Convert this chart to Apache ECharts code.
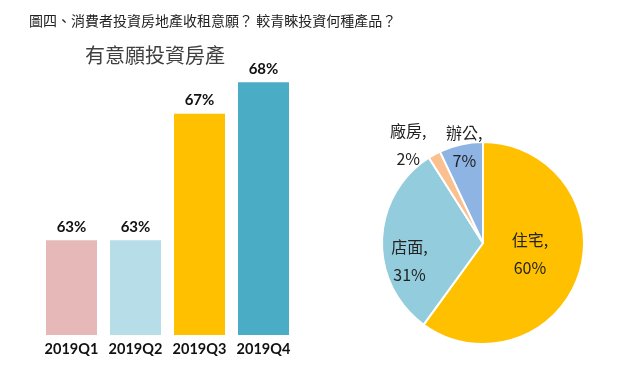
<!DOCTYPE html>
<html><head><meta charset="utf-8">
<script src="https://cdn.jsdelivr.net/npm/echarts@6/dist/echarts.min.js"></script>
<style>html,body{margin:0;padding:0;background:#fff}#c{width:640px;height:377px}</style>
</head><body><div id="c"></div>
<script>
var categories = ['2019Q1', '2019Q2', '2019Q3', '2019Q4'];
var barValues = [63, 63, 67, 68];
var barColors = ['#E6B9B8', '#B7DEE8', '#FFC000', '#4BACC6'];
var pieNames = ['住宅', '店面', '廠房', '辦公'];
var pieValues = [60, 31, 2, 7];
var pieColors = ['#FFC000', '#93CDDD', '#FAC090', '#8EB4E3'];
var pieOffsets = [[-4, -6], [-20, 20], [-49, -51], [-7, -44]];

var chart = echarts.init(document.getElementById('c'));
chart.setOption({
  animation: false,
  backgroundColor: '#fff',
  title: [
    { text: '圖四、消費者投資房地產收租意願？ 較青睞投資何種產品？', left: 24, top: 9,
      textStyle: { fontFamily: 'Noto Sans CJK TC', fontSize: 14, fontWeight: 'normal', color: '#222' } },
    { text: '有意願投資房產', left: 80, top: 40,
      textStyle: { fontFamily: 'Noto Sans CJK TC', fontSize: 20, fontWeight: 'normal', color: '#404040' } }
  ],
  grid: { left: 39.5, right: 344.5, top: 19, bottom: 42 },
  xAxis: {
    type: 'category', data: categories,
    axisLine: { show: false }, axisTick: { show: false },
    axisLabel: { interval: 0, margin: 7, fontFamily: 'Lato', fontWeight: 'bold', fontSize: 14.5, color: '#111' }
  },
  yAxis: { type: 'value', min: 60, max: 70, show: false, splitLine: { show: false } },
  series: [
    {
      type: 'bar', barWidth: 51,
      data: barValues.map(function (v, i) { return { value: v, itemStyle: { color: barColors[i] } }; }),
      label: { show: true, position: 'top', distance: 6, formatter: '{c}%',
        fontFamily: 'Lato', fontWeight: 'bold', fontSize: 15, color: '#111' }
    },
    {
      type: 'pie', center: [483, 243], radius: 101, startAngle: 90, clockwise: true,
      itemStyle: { borderColor: '#fff', borderWidth: 2 },
      data: pieValues.map(function (v, i) {
        return { name: pieNames[i], value: v, itemStyle: { color: pieColors[i] },
          label: { offset: pieOffsets[i] } };
      }),
      label: { show: true, position: 'inside', formatter: '{b},\n{c}%',
        fontFamily: 'Noto Sans CJK TC', fontSize: 16, lineHeight: 28, color: '#222' },
      labelLine: { show: false }
    }
  ]
});
</script></body></html>
